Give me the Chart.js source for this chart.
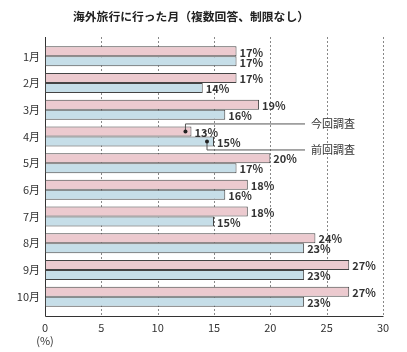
<!DOCTYPE html>
<html><head><meta charset="utf-8">
<script src="https://cdn.jsdelivr.net/npm/chart.js@4/dist/chart.umd.min.js"></script>
<style>html,body{margin:0;padding:0;background:#fff}#w{width:407px;height:352px}</style>
</head><body><div id="w"><canvas id="c"></canvas></div>
<script>
const categories = ['1月','2月','3月','4月','5月','6月','7月','8月','9月','10月'];
const currentSurvey = [17,17,19,13,20,18,18,24,27,27];
const previousSurvey = [17,14,16,15,17,16,15,23,23,23];
const xTicks = [0,5,10,15,20,25,30];
const titleText = '海外旅行に行った月（複数回答、制限なし）';
const FONT = "'Noto Sans CJK JP','Noto Sans',sans-serif";
const EXT = 6;

const extras = {
  id:'extras',
  beforeDatasetsDraw(chart){
    const ctx = chart.ctx, a = chart.chartArea, sx = chart.scales.x;
    const top = a.top - EXT, bot = a.bottom + EXT;
    ctx.save();
    ctx.strokeStyle = '#888'; ctx.lineWidth = 1; ctx.setLineDash([2,2]);
    xTicks.slice(1).forEach(v=>{
      const x = Math.round(sx.getPixelForValue(v)) + 0.5;
      ctx.beginPath(); ctx.moveTo(x, top); ctx.lineTo(x, bot); ctx.stroke();
    });
    ctx.setLineDash([]);
    ctx.strokeStyle = '#333';
    const x0 = Math.round(sx.getPixelForValue(0)) + 0.5;
    const x1 = Math.round(sx.getPixelForValue(30)) + 0.5;
    ctx.beginPath();
    ctx.moveTo(x0, top); ctx.lineTo(x0, Math.round(bot)+0.5); ctx.lineTo(x1, Math.round(bot)+0.5);
    ctx.stroke();
    ctx.restore();
  },
  afterDatasetsDraw(chart){
    const ctx = chart.ctx;
    ctx.save();
    ctx.font = 'bold 11px ' + FONT;
    ctx.fillStyle = '#333';
    ctx.textBaseline = 'middle';
    ctx.textAlign = 'left';
    chart.data.datasets.forEach((ds,di)=>{
      chart.getDatasetMeta(di).data.forEach((bar,i)=>{
        ctx.fillText(ds.data[i]+'%', bar.x+3, bar.y+1);
      });
    });
    const p = chart.getDatasetMeta(0).data[3];
    const b = chart.getDatasetMeta(1).data[3];
    ctx.strokeStyle = '#555'; ctx.lineWidth = 1;
    const endX = 305;
    ctx.beginPath();
    ctx.moveTo(p.x-6, p.y); ctx.lineTo(p.x-6, p.y-7.5); ctx.lineTo(endX, p.y-7.5);
    ctx.moveTo(b.x-7, b.y); ctx.lineTo(b.x-7, b.y+8.5); ctx.lineTo(endX, b.y+8.5);
    ctx.stroke();
    ctx.fillStyle = '#222';
    ctx.beginPath(); ctx.arc(p.x-6, p.y, 2, 0, Math.PI*2); ctx.fill();
    ctx.beginPath(); ctx.arc(b.x-7, b.y, 2, 0, Math.PI*2); ctx.fill();
    ctx.font = '11px ' + FONT;
    ctx.fillStyle = '#333';
    ctx.fillText('今回調査', endX+6, p.y-7.5);
    ctx.fillText('前回調査', endX+6, b.y+8.5);
    ctx.font = 'bold 11.8px ' + FONT;
    ctx.textAlign = 'center';
    ctx.fillStyle = '#222';
    ctx.fillText(titleText, 191, 17);
    ctx.font = '11px ' + FONT;
    ctx.fillStyle = '#333';
    ctx.fillText('(%)', chart.scales.x.getPixelForValue(0), 341);
    ctx.restore();
  }
};

new Chart(document.getElementById('c'), {
  type:'bar',
  data:{
    labels: categories,
    datasets:[
      {label:'今回調査', data: currentSurvey, backgroundColor:'#eccacf', borderColor:'#444', borderWidth:1, borderSkipped:false},
      {label:'前回調査', data: previousSurvey, backgroundColor:'#c6dee8', borderColor:'#444', borderWidth:1, borderSkipped:false}
    ]
  },
  options:{
    indexAxis:'y',
    responsive:true, maintainAspectRatio:false, animation:false,
    devicePixelRatio:1,
    layout:{padding:{top:37+EXT,right:24,bottom:0,left:0}},
    datasets:{bar:{categoryPercentage:0.75, barPercentage:1}},
    plugins:{legend:{display:false}, title:{display:false}, tooltip:{enabled:false}},
    scales:{
      x:{
        min:0, max:30,
        afterBuildTicks(s){ s.ticks = xTicks.map(v=>({value:v})); },
        afterFit(s){ s.height = 36 + EXT; },
        grid:{display:false, drawTicks:false},
        border:{display:false},
        ticks:{padding:5+EXT, color:'#333', font:{family:FONT, size:11}}
      },
      y:{
        afterFit(s){ s.width = 45; },
        grid:{display:false, drawTicks:false},
        border:{display:false},
        ticks:{padding:5, color:'#333', font:{family:FONT, size:11}}
      }
    }
  },
  plugins:[extras]
});
</script></body></html>
